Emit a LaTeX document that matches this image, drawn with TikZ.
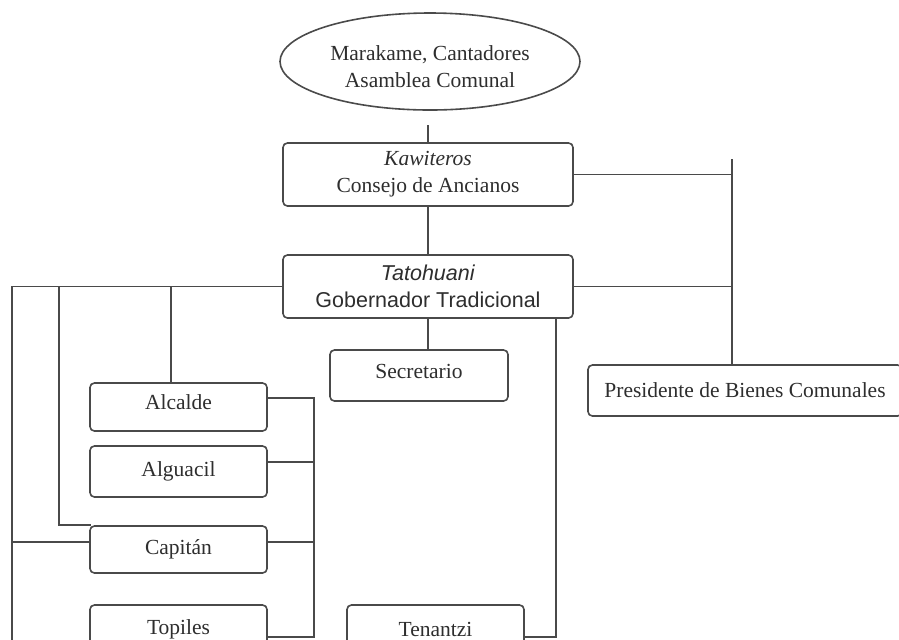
\documentclass[tikz,border=0pt]{standalone}
\usepackage{fontspec}
\setmainfont{Liberation Serif}
\setsansfont{Liberation Sans}
\usetikzlibrary{shapes.geometric,calc}
\definecolor{linec}{HTML}{4A4A4A}
\definecolor{textc}{HTML}{2E2E2E}
\newcommand{\orgsz}{\fontsize{10.75}{13.5}\selectfont}
\tikzset{
  conn/.style={draw=linec, line width=0.8pt},
  orgbox/.style={draw=linec, line width=0.8pt, rounded corners=2.2pt, inner sep=0pt,
    align=center, font=\orgsz, text=textc},
  lowbox/.style={orgbox, minimum width=88.5pt},
}
\begin{document}
\begin{tikzpicture}[x=0.5pt,y=-0.5pt]
\useasboundingbox (0,0) rectangle (899,639);
\clip (0,0) rectangle (899,639);
\fill[white] (0,0) rectangle (899,639);
% nodes
\node[ellipse, draw=linec, line width=0.8pt, minimum width=150pt, minimum height=48.5pt, inner sep=0pt] (asam) at (430,61.5) {};
\node[font=\orgsz, text=textc, align=center, inner sep=0pt] (asamtxt) at (430,67) {Marakame, Cantadores\\Asamblea Comunal};
\node[orgbox, minimum width=145pt, minimum height=31.5pt] (kaw) at (428,174.5) {\textit{Kawiteros}\\Consejo de Ancianos};
\node[orgbox, minimum width=145pt, minimum height=31.5pt, font=\orgsz\sffamily] (tat) at (428,286.5) {\textit{Tatohuani}\\Gobernador Tradicional};
\node[orgbox, minimum width=89pt, minimum height=25.5pt, text depth=4pt] (sec) at (419,375.5) {Secretario};
\node[orgbox, minimum width=157pt, minimum height=25.5pt] (pres) at (745,390.5) {Presidente de Bienes Comunales};
\node[lowbox, minimum height=24pt, text depth=5pt] (alc) at (178.5,407) {Alcalde};
\node[lowbox, minimum height=25.5pt] (alg) at (178.5,471.5) {Alguacil};
\node[lowbox, minimum height=23.5pt] (cap) at (178.5,549.5) {Capit\'an};
\node[lowbox, minimum height=24pt] (top) at (178.5,629) {Topiles};
\node[lowbox, minimum height=24pt] (ten) at (435.5,629) {Tenantzi};
% coordinates
\coordinate (topfree) at (428,125);
\coordinate (rbtop) at (732,159);
\coordinate (lb) at (12,680);
\coordinate (l2) at (59,0);
\coordinate (l3) at (171,0);
\coordinate (rb2) at (314,0);
\coordinate (r3) at (556,0);
% connectors
\draw[conn] (topfree) -- (kaw.north);
\draw[conn] (kaw.south) -- (tat.north);
\draw[conn] (kaw.east) -- (kaw.east -| rbtop);
\draw[conn] (rbtop) -- (rbtop |- pres.north);
\draw[conn] (tat.east) -- (tat.east -| rbtop);
\draw[conn] (tat.west) -- (tat.west -| lb) -- (lb);
\draw[conn] (tat.west -| l2) -- (l2 |- cap.north) -- ($(cap.north west)+(2,0)$);
\draw[conn] (tat.west -| l3) -- (l3 |- alc.north);
\draw[conn] ($(cap.west)+(0,-7.5)$) -- ($(cap.west -| lb)+(0,-7.5)$);
\draw[conn] (tat.south) -- (tat.south |- sec.north);
\draw[conn] (tat.south -| r3) |- ($(ten.east)+(0,8)$);
\draw[conn] ($(alc.east)+(0,-9)$) -| ($(top.east -| rb2)+(0,8)$) -- ($(top.east)+(0,8)$);
\draw[conn] ($(alg.east)+(0,-9.5)$) -- ($(alg.east -| rb2)+(0,-9.5)$);
\draw[conn] ($(cap.east)+(0,-7.5)$) -- ($(cap.east -| rb2)+(0,-7.5)$);
\end{tikzpicture}
\end{document}
